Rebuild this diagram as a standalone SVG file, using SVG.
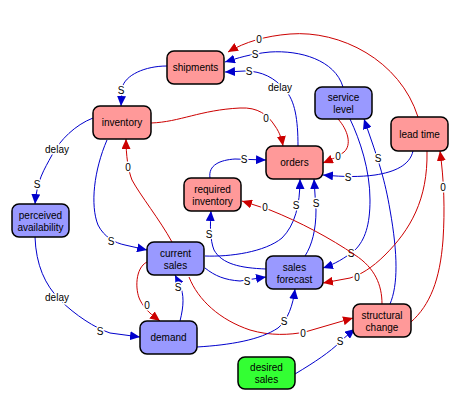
<svg xmlns="http://www.w3.org/2000/svg" width="468" height="402" viewBox="0 0 468 402">
<style>
.n rect{stroke:#000;stroke-width:1.5}
.p rect{fill:#ff9999}
.b rect{fill:#9999ff}
.g rect{fill:#33ff33}
.n text{font-family:"Liberation Sans",Arial,sans-serif;font-size:10px;text-anchor:middle;fill:#000}
.c path{fill:none;stroke-width:1}
.c .bl{stroke:#0000cc;marker-end:url(#ab)}
.c .rd{stroke:#cc0000;marker-end:url(#ar)}
.c text{font-family:"Liberation Sans",Arial,sans-serif;font-size:10px;text-anchor:middle;fill:#000;stroke:#fff;stroke-width:3;paint-order:stroke}
</style>
<defs>
<marker id="ab" markerUnits="userSpaceOnUse" markerWidth="10" markerHeight="9" refX="10" refY="4.5" orient="auto"><path d="M0,0 L10,4.5 L0,9 z" fill="#0000cc"/></marker>
<marker id="ar" markerUnits="userSpaceOnUse" markerWidth="10" markerHeight="9" refX="10" refY="4.5" orient="auto"><path d="M0,0 L10,4.5 L0,9 z" fill="#cc0000"/></marker>
</defs>
<rect width="468" height="402" fill="#fff"/>
<g class="c" id="connectors">
<path class="rd" d="M418,117 C400,60 340,30 290,34 C265,36 245,42 228,52"/>
<text x="259" y="43">0</text>
<path class="bl" d="M343,87 C335,60 300,50 270,52 C250,54 238,58 225,62"/>
<text x="255" y="58">S</text>
<path class="bl" d="M298,146 C298,120 295,100 285,90 C275,78 262,71 245,71 L225,72"/>
<text x="280" y="91">delay</text>
<text x="249" y="75">S</text>
<path class="bl" d="M167,66 C145,66 125,75 122,88 L121,106"/>
<text x="121" y="94">S</text>
<path class="rd" d="M151,123 C180,122 200,110 240,108 C258,107 268,115 275,126 C280,133 282,140 283,146"/>
<text x="266" y="122">0</text>
<path class="bl" d="M93,118 C75,125 60,140 52,155 C44,170 37,180 35,204"/>
<text x="57" y="153">delay</text>
<text x="37" y="188">S</text>
<path class="bl" d="M107,140 C94,170 90,205 98,225 C104,237 115,243 125,245 L147,250"/>
<text x="111" y="245">S</text>
<path class="rd" d="M172,242 C160,220 140,195 132,180 C128,170 126,155 126,139"/>
<text x="128" y="171">0</text>
<path class="bl" d="M35,237 C36,265 45,285 60,300 C75,315 95,328 110,333 L140,337"/>
<text x="57" y="301">delay</text>
<text x="100" y="335">S</text>
<path class="rd" d="M147,262 C135,268 135,290 140,300 C145,310 152,315 160,321"/>
<text x="147" y="309">0</text>
<path class="bl" d="M180,321 C184,305 184,295 180,285 L175,275"/>
<text x="178" y="291">S</text>
<path class="bl" d="M205,256 C230,257 265,252 282,238 C295,225 300,205 300,179"/>
<text x="296" y="209">S</text>
<path class="bl" d="M305,256 C312,245 316,230 316,210 L314,179"/>
<text x="316" y="207">S</text>
<path class="bl" d="M210,178 C208,165 220,160 235,159 L266,160"/>
<text x="244" y="163">S</text>
<path class="bl" d="M266,269 C240,268 222,264 214,250 C210,240 210,225 211,211"/>
<text x="209" y="238">S</text>
<path class="bl" d="M205,268 C215,276 225,280 240,281 L266,277"/>
<text x="247" y="285">S</text>
<path class="bl" d="M413,151 C410,165 395,172 375,175 C360,177 345,177 323,175"/>
<text x="348" y="181">S</text>
<path class="rd" d="M338,119 C348,130 352,145 344,152 C338,157 330,160 323,163"/>
<text x="338" y="160">0</text>
<path class="bl" d="M390,304 C398,285 398,255 390,210 C385,180 378,160 373,145 L364,119"/>
<text x="378" y="162">S</text>
<path class="bl" d="M350,119 C360,140 370,170 370,200 C370,225 365,240 355,250 C345,258 335,264 323,268"/>
<text x="351" y="257">S</text>
<path class="rd" d="M427,151 C428,200 410,230 385,255 C372,268 360,275 350,278 L323,283"/>
<text x="357" y="281">0</text>
<path class="rd" d="M411,322 C430,305 440,280 443,240 C445,210 444,180 440,151"/>
<text x="443" y="191">0</text>
<path class="rd" d="M382,304 C382,285 375,268 355,255 C330,238 300,222 270,210 L242,201"/>
<text x="265" y="211">0</text>
<path class="rd" d="M189,277 C198,300 220,320 250,330 C270,336 290,335 305,332 L353,318"/>
<text x="303" y="337">0</text>
<path class="bl" d="M197,347 C230,345 260,340 278,328 C288,320 293,305 295,289"/>
<text x="284" y="325">S</text>
<path class="bl" d="M295,374 C315,362 330,352 340,342 C345,337 350,333 355,329"/>
<text x="340" y="345">S</text>
</g>
<g class="n p" id="shipments"><rect x="167" y="51" width="57" height="33" rx="7"/><text x="195.5" y="71">shipments</text></g>
<g class="n b" id="service_level"><rect x="315" y="87" width="57" height="32" rx="7"/><text x="343.5" y="101">service</text><text x="343.5" y="113">level</text></g>
<g class="n p" id="lead_time"><rect x="391" y="117" width="57" height="34" rx="7"/><text x="419.5" y="138">lead time</text></g>
<g class="n p" id="inventory"><rect x="93" y="106" width="58" height="33" rx="7"/><text x="122" y="126">inventory</text></g>
<g class="n p" id="orders"><rect x="266" y="146" width="57" height="33" rx="7"/><text x="294.5" y="166">orders</text></g>
<g class="n p" id="required_inventory"><rect x="184" y="178" width="57" height="33" rx="7"/><text x="212.5" y="193">required</text><text x="212.5" y="205">inventory</text></g>
<g class="n b" id="perceived_availability"><rect x="12" y="204" width="57" height="33" rx="7"/><text x="40.5" y="219">perceived</text><text x="40.5" y="231">availability</text></g>
<g class="n b" id="current_sales"><rect x="147" y="242" width="57" height="33" rx="7"/><text x="175.5" y="257">current</text><text x="175.5" y="269">sales</text></g>
<g class="n b" id="sales_forecast"><rect x="266" y="256" width="57" height="33" rx="7"/><text x="294.5" y="271">sales</text><text x="294.5" y="283">forecast</text></g>
<g class="n b" id="demand"><rect x="140" y="321" width="57" height="33" rx="7"/><text x="168.5" y="341">demand</text></g>
<g class="n p" id="structural_change"><rect x="353" y="304" width="58" height="33" rx="7"/><text x="382" y="319">structural</text><text x="382" y="331">change</text></g>
<g class="n g" id="desired_sales"><rect x="238" y="357" width="57" height="32" rx="7"/><text x="266.5" y="371">desired</text><text x="266.5" y="383">sales</text></g>
</svg>
